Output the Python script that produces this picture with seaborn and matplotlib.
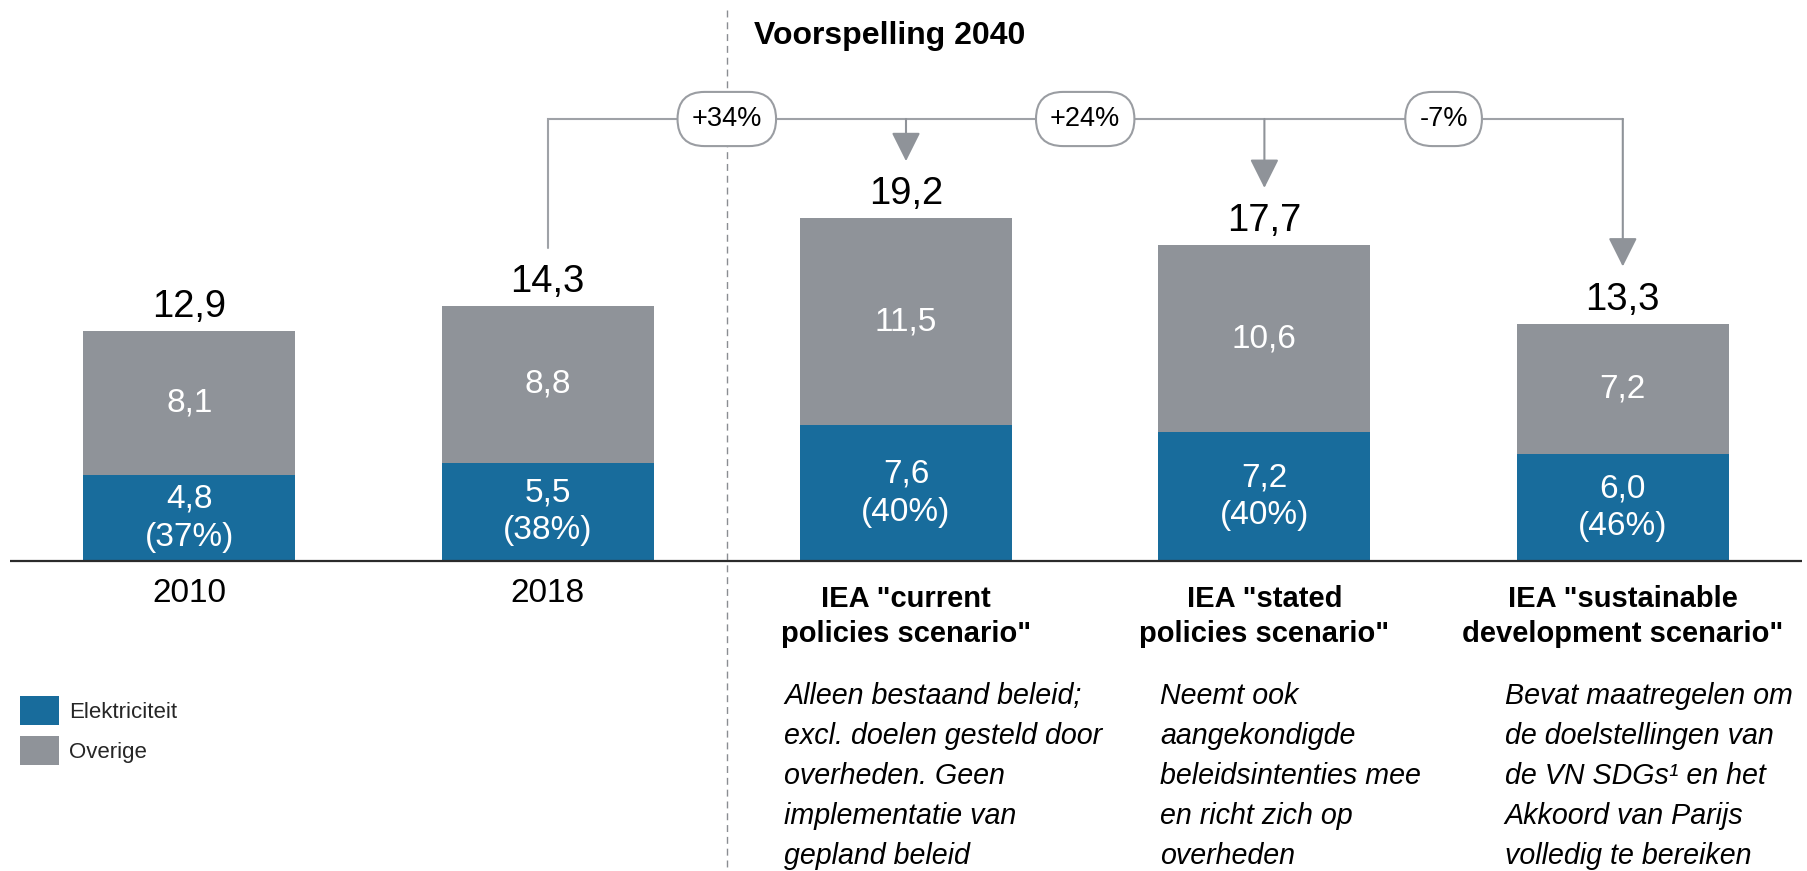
import matplotlib
matplotlib.use("Agg")
import matplotlib.pyplot as plt
from matplotlib.patches import Patch
import seaborn as sns
import pandas as pd

# ---------------- data ----------------
categories = ["2010", "2018", "current", "stated", "sustainable"]
cat_labels = ["2010", "2018",
              'IEA "current\npolicies scenario"',
              'IEA "stated\npolicies scenario"',
              'IEA "sustainable\ndevelopment scenario"']
elektriciteit = [4.8, 5.5, 7.6, 7.2, 6.0]
overige = [8.1, 8.8, 11.5, 10.6, 7.2]
totaal = [12.9, 14.3, 19.2, 17.7, 13.3]
aandeel = [37, 38, 40, 40, 46]
verandering = ["+34%", "+24%", "-7%"]
beschrijving = [
    "Alleen bestaand beleid;\nexcl. doelen gesteld door\noverheden. Geen\nimplementatie van\ngepland beleid",
    "Neemt ook\naangekondigde\nbeleidsintenties mee\nen richt zich op\noverheden",
    "Bevat maatregelen om\nde doelstellingen van\nde VN SDGs\u00b9 en het\nAkkoord van Parijs\nvolledig te bereiken",
]
titel = "Voorspelling 2040"
legend_labels = ["Elektriciteit", "Overige"]

# ---------------- style ----------------
sns.set_style("white")
plt.rcParams['font.family'] = ['Liberation Sans', 'DejaVu Sans']
BLUE = '#186C9C'
GRAY = '#8F9399'
LINE = '#9FA2A7'
ARROW = '#8F9399'

W, H = 1808, 871
fig = plt.figure(figsize=(W / 100, H / 100), dpi=100)
AX_L, AX_R = 10, 1802
ax = fig.add_axes([AX_L / W, 0, (AX_R - AX_L) / W, 1])
PXX = (AX_R - AX_L) / 5.0   # pixels per category
PXY = 17.85                 # pixels per unit
BASE = 561                  # baseline, px from top

def ypx(py):
    return (BASE - py) / PXY

def fmt(v):
    return f"{v:.1f}".replace('.', ',')

df = pd.DataFrame({"cat": categories, "tot": totaal, "el": elektriciteit})
bw = 212 / PXX
sns.barplot(data=df, x="cat", y="tot", order=categories, color=GRAY, saturation=1,
            width=bw, errorbar=None, linewidth=0, ax=ax)
sns.barplot(data=df, x="cat", y="el", order=categories, color=BLUE, saturation=1,
            width=bw, errorbar=None, linewidth=0, ax=ax)
ax.set_xlim(-0.5, 4.5)
ax.set_ylim(ypx(H), ypx(0))
ax.axis('off')

ax.axhline(0, color='#2b2b2b', lw=1.6, zorder=5)

# bar labels
for i in range(5):
    ax.text(i, totaal[i] + 14 / PXY, fmt(totaal[i]), ha='center', va='baseline',
            fontsize=27.5, color='black')
    ax.text(i, (elektriciteit[i] + totaal[i]) / 2, fmt(overige[i]), ha='center', va='center',
            fontsize=24, color='white')
    ax.text(i, elektriciteit[i] / 2, f"{fmt(elektriciteit[i])}\n({aandeel[i]}%)",
            ha='center', va='center', multialignment='center', linespacing=1.28,
            fontsize=24, color='white')

# category labels
for i in range(2):
    ax.text(i, ypx(593), cat_labels[i], ha='center', va='center', fontsize=24,
            color='black')
# multi-line texts: va='baseline' anchors the last line's baseline
for i in range(2, 5):
    ax.text(i, ypx(642), cat_labels[i], ha='center', va='baseline', multialignment='center',
            fontsize=21, fontweight='bold', linespacing=1.34, color='black')

# descriptions
desc_dx = [-122, -104, -118]
for j, txt in enumerate(beschrijving):
    ax.text(j + 2 + desc_dx[j] / PXX, ypx(864), txt, ha='left', va='baseline',
            fontsize=20.6, style='italic', linespacing=1.55, color='black')

# divider + title
ax.plot([1.5, 1.5], [ypx(10), ypx(H)], ls=(0, (5, 3.5)), lw=1.0, color='#8a8d92',
        zorder=1, clip_on=False)
ax.text(1.5 + 27 / PXX, ypx(44), titel, ha='left', va='baseline', fontsize=23,
        fontweight='bold', color='black')

# connector
y_line = ypx(119)
ax.plot([1, 1, 4], [totaal[1] + 3.25, y_line, y_line], color=LINE, lw=1.5,
        solid_joinstyle='miter', zorder=3)
for i in range(2, 5):
    ax.annotate('', xy=(i, totaal[i] + 3.2), xytext=(i, y_line),
                arrowprops=dict(arrowstyle='-|>,head_length=0.9,head_width=0.45',
                                color=ARROW, lw=1.5, shrinkA=0, shrinkB=0,
                                mutation_scale=20), zorder=3)
for j, lab in enumerate(verandering):
    ax.text(1.5 + j, y_line, lab, ha='center', va='center', fontsize=19.5, color='black',
            zorder=6,
            bbox=dict(boxstyle='round,pad=0.52,rounding_size=1.0', fc='white',
                      ec='#9a9da2', lw=1.5))

# legend
handles = [Patch(facecolor=BLUE, edgecolor='none'), Patch(facecolor=GRAY, edgecolor='none')]
fig.legend(handles, legend_labels, loc='upper left', bbox_to_anchor=(20 / W, 1 - 696 / H),
           frameon=False, fontsize=16, handlelength=1.76, handleheight=1.63,
           handletextpad=0.45, labelspacing=0.5, borderpad=0, borderaxespad=0)

fig.savefig('out.png', dpi=100)
